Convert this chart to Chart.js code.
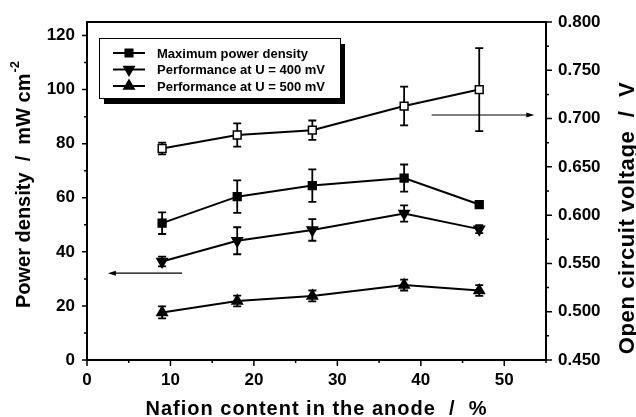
<!DOCTYPE html>
<html>
<head>
<meta charset="utf-8">
<script src="https://cdn.jsdelivr.net/npm/chart.js@4"></script>
<style>
  html, body { margin: 0; padding: 0; background: #fff; }
  #wrap { width: 636px; height: 417px; }
</style>
</head>
<body>
<div id="wrap"><canvas id="chart" width="636" height="417"></canvas></div>
<script>
// nafion content in the anode (%)
const nafion = [9, 18, 27, 38, 47];

// power density series (mW cm-2) with error half-widths
const maxPower = [50.6, 60.4, 64.5, 67.3, 57.5];
const maxPowerErr = [4, 6, 6, 5, 1.2];
const perf400 = [36.4, 44.1, 48.1, 54.2, 48.4];
const perf400Err = [1.8, 5, 4, 3, 1.5];
const perf500 = [17.6, 21.8, 23.7, 27.7, 25.7];
const perf500Err = [2.2, 2, 2, 2, 2];

// open circuit voltage (V), right axis
const ocv = [0.669, 0.683, 0.688, 0.713, 0.730];
const ocvErr = [0.006, 0.012, 0.010, 0.020, 0.043];

const legendLabels = ["Maximum power density", "Performance at U = 400 mV", "Performance at U = 500 mV"];

// arrows pointing to the axis each series group belongs to
const leftArrow = { y: 32.1, from: 11.4, to: 2.5 };
const rightArrow = { y: 0.7037, from: 41.3, to: 53.6 };

const FONT = "'Liberation Sans', Arial, sans-serif";

const pts = (ys) => nafion.map((x, i) => ({ x: x, y: ys[i] }));

function series(label, ys, err, style, rot, fill, axis) {
  return {
    label: label,
    data: pts(ys),
    err: err,
    yAxisID: axis,
    borderColor: "#000",
    borderWidth: 2,
    pointStyle: style,
    rotation: rot,
    pointRadius: style === "rect" ? 5.5 : 6,
    pointBackgroundColor: fill,
    pointBorderColor: "#000",
    pointBorderWidth: 1.5,
    showLine: true,
    tension: 0,
  };
}

const errorBars = {
  id: "errorBars",
  beforeDatasetsDraw(chart) {
    const ctx = chart.ctx;
    const xs = chart.scales.x;
    ctx.save();
    ctx.strokeStyle = "#000";
    ctx.lineWidth = 1.8;
    chart.data.datasets.forEach((ds) => {
      const ys = chart.scales[ds.yAxisID];
      ds.data.forEach((p, i) => {
        const e = ds.err[i];
        const px = xs.getPixelForValue(p.x);
        const top = ys.getPixelForValue(p.y + e);
        const bot = ys.getPixelForValue(p.y - e);
        ctx.beginPath();
        ctx.moveTo(px, top); ctx.lineTo(px, bot);
        ctx.moveTo(px - 4, top); ctx.lineTo(px + 4, top);
        ctx.moveTo(px - 4, bot); ctx.lineTo(px + 4, bot);
        ctx.stroke();
      });
    });
    ctx.restore();
  },
};

function arrow(ctx, x1, y, x2) {
  const dir = x2 > x1 ? 1 : -1;
  ctx.beginPath();
  ctx.moveTo(x1, y); ctx.lineTo(x2 - dir * 5, y);
  ctx.lineWidth = 1.2;
  ctx.stroke();
  ctx.beginPath();
  ctx.moveTo(x2, y);
  ctx.lineTo(x2 - dir * 8, y - 2.5);
  ctx.lineTo(x2 - dir * 8, y + 2.5);
  ctx.closePath();
  ctx.fill();
}

const decorations = {
  id: "decorations",
  afterDraw(chart) {
    const ctx = chart.ctx;
    const a = chart.chartArea;
    const xs = chart.scales.x, yl = chart.scales.y, yr = chart.scales.y2;
    ctx.save();
    ctx.strokeStyle = "#000";
    ctx.fillStyle = "#000";

    // frame
    ctx.lineWidth = 2;
    ctx.strokeRect(a.left, a.top, a.right - a.left, a.bottom - a.top);

    // ticks, major and minor
    ctx.lineWidth = 1.5;
    ctx.beginPath();
    xs.ticks.forEach((t) => {
      const px = xs.getPixelForValue(t.value);
      const len = t.value % 10 === 0 ? 6 : 3;
      ctx.moveTo(px, a.bottom); ctx.lineTo(px, a.bottom + len);
    });
    yl.ticks.forEach((t) => {
      const py = yl.getPixelForValue(t.value);
      const len = t.value % 20 === 0 ? 5 : 3;
      ctx.moveTo(a.left, py); ctx.lineTo(a.left - len, py);
    });
    yr.ticks.forEach((t) => {
      const py = yr.getPixelForValue(t.value);
      const len = Math.round(t.value * 1000) % 50 === 0 ? 6 : 3;
      ctx.moveTo(a.right, py); ctx.lineTo(a.right + len, py);
    });
    ctx.stroke();

    // arrows
    arrow(ctx, xs.getPixelForValue(leftArrow.from), yl.getPixelForValue(leftArrow.y), xs.getPixelForValue(leftArrow.to));
    arrow(ctx, xs.getPixelForValue(rightArrow.from), yr.getPixelForValue(rightArrow.y), xs.getPixelForValue(rightArrow.to));

    // axis titles
    ctx.textAlign = "center";
    ctx.textBaseline = "middle";
    ctx.font = "bold 20px " + FONT;
    ctx.letterSpacing = "1px";
    ctx.fillText("Nafion content in the anode  /  %", (a.left + a.right) / 2, 409);
    ctx.letterSpacing = "0px";

    ctx.save();
    ctx.translate(24, 185);
    ctx.rotate(-Math.PI / 2);
    ctx.font = "bold 20px " + FONT;
    const main = "Power density  /  mW cm";
    const w1 = ctx.measureText(main).width;
    ctx.font = "bold 13px " + FONT;
    const w2 = ctx.measureText("-2").width;
    ctx.textAlign = "left";
    ctx.font = "bold 20px " + FONT;
    ctx.fillText(main, -(w1 + w2) / 2, 0);
    ctx.font = "bold 13px " + FONT;
    ctx.fillText("-2", -(w1 + w2) / 2 + w1 + 1, -9);
    ctx.restore();

    ctx.save();
    ctx.translate(628, 218);
    ctx.rotate(-Math.PI / 2);
    ctx.font = "bold 22px " + FONT;
    ctx.letterSpacing = "0.6px";
    ctx.fillText("Open circuit voltage  /  V", 0, 0);
    ctx.letterSpacing = "0px";
    ctx.restore();

    // legend box with shadow
    const bx = 99, by = 38, bw = 241, bh = 60;
    ctx.fillRect(bx + 5, by + 6, bw, bh);
    ctx.fillStyle = "#fff";
    ctx.fillRect(bx, by, bw, bh);
    ctx.lineWidth = 1;
    ctx.strokeRect(bx + 0.5, by + 0.5, bw, bh);
    ctx.fillStyle = "#000";
    const markers = [["rect", 0], ["triangle", 180], ["triangle", 0]];
    ctx.font = "bold 13px " + FONT;
    ctx.textAlign = "left";
    legendLabels.forEach((txt, i) => {
      const ry = 53 + i * 16.5;
      ctx.lineWidth = 2;
      ctx.beginPath();
      ctx.moveTo(113, ry); ctx.lineTo(145, ry);
      ctx.stroke();
      Chart.helpers.drawPoint(ctx, { pointStyle: markers[i][0], rotation: markers[i][1], radius: markers[i][0] === "rect" ? 5 : 5.5, borderWidth: 1 }, 129, ry);
      ctx.fill();
      ctx.fillText(txt, 157, ry + 1);
    });
    ctx.restore();
  },
};

new Chart(document.getElementById("chart"), {
  type: "line",
  data: {
    datasets: [
      series(legendLabels[0], maxPower, maxPowerErr, "rect", 0, "#000", "y"),
      series(legendLabels[1], perf400, perf400Err, "triangle", 180, "#000", "y"),
      series(legendLabels[2], perf500, perf500Err, "triangle", 0, "#000", "y"),
      series("Open circuit voltage", ocv, ocvErr, "rect", 0, "#fff", "y2"),
    ],
  },
  options: {
    responsive: false,
    animation: false,
    layout: { padding: { top: 22, left: 0, right: 0, bottom: 0 } },
    plugins: { legend: { display: false }, tooltip: { enabled: false } },
    scales: {
      x: {
        type: "linear",
        min: 0, max: 55,
        afterFit: (s) => { s.height = 57; },
        grid: { drawOnChartArea: false, tickLength: 6, tickColor: "rgba(0,0,0,0)" },
        border: { display: false },
        ticks: {
          stepSize: 5, includeBounds: false, autoSkip: false, maxRotation: 0, padding: 4,
          color: "#000", font: { family: FONT, size: 17, weight: "bold" },
          callback: (v) => (v % 10 === 0 ? v : ""),
        },
      },
      y: {
        position: "left",
        min: 0, max: 125,
        afterFit: (s) => { s.width = 87; },
        grid: { drawOnChartArea: false, tickLength: 6, tickColor: "rgba(0,0,0,0)" },
        border: { display: false },
        ticks: {
          stepSize: 10, includeBounds: false, autoSkip: false, padding: 6,
          color: "#000", font: { family: FONT, size: 17, weight: "bold" },
          callback: (v) => (v % 20 === 0 ? v : ""),
        },
      },
      y2: {
        position: "right",
        min: 0.45, max: 0.8,
        afterFit: (s) => { s.width = 90; },
        grid: { drawOnChartArea: false, tickLength: 6, tickColor: "rgba(0,0,0,0)" },
        border: { display: false },
        ticks: {
          stepSize: 0.025, includeBounds: false, autoSkip: false, padding: 6,
          color: "#000", font: { family: FONT, size: 17, weight: "bold" },
          callback: (v) => (Math.round(v * 1000) % 50 === 0 ? v.toFixed(3) : ""),
        },
      },
    },
  },
  plugins: [errorBars, decorations],
});
</script>
</body>
</html>
